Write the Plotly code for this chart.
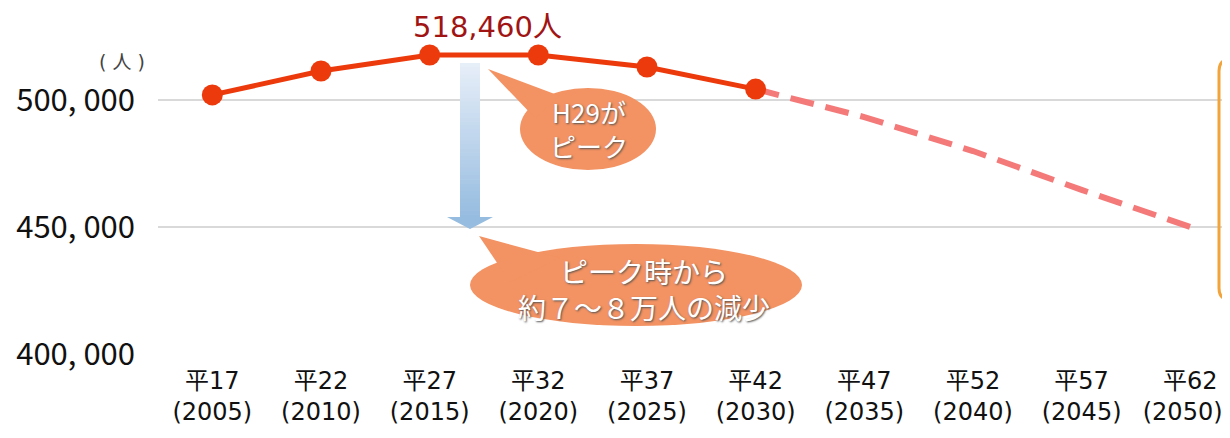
import plotly.graph_objects as go

# ---------------- data ----------------
era_labels = ["平17", "平22", "平27", "平32", "平37", "平42", "平47", "平52", "平57", "平62"]
year_labels = ["2005", "2010", "2015", "2020", "2025", "2030", "2035", "2040", "2045", "2050"]
actual_values = [502000, 511400, 517700, 517700, 513000, 504300]          # solid (with markers)
projected_values = [504300, 493300, 479900, 464600, 450000]               # dashed, from 2030
y_tick_values = [400000, 450000, 500000]
y_tick_labels = ["400, 000", "450, 000", "500, 000"]
peak_value = 518460
bubble1_lines = ["H29が", "ピーク"]
bubble2_lines = ["ピーク時から", "約７～８万人の減少"]

# ---------------- layout geometry ----------------
# the page has an 8px body margin, so screen px = figure px + 8
OFF = 8
FW, FH = 1222, 422
L, R, T = 150, 0, 0
H = 354 - OFF            # plot bottom (400,000 gridline) at screen y=354
B = FH - T - H
W = FW - L - R


def fx(px):  # screen px -> paper x
    return (px - OFF - L) / W


def fy(py):  # screen px -> paper y
    return (T + H - (py - OFF)) / H


x_idx = list(range(len(era_labels)))
tick_text = [f"{e}<br>({y})" for e, y in zip(era_labels, year_labels)]
# keep the last (edge) label inside the visible page
tick_text[-1] = f"{era_labels[-1]}<br>({year_labels[-1]})" + "\u00a0\u00a0"
proj_x = x_idx[len(actual_values) - 1:]

JP = "Noto Sans CJK JP"
DJ = "DejaVu Sans, Noto Sans CJK JP"
fig = go.Figure()

# dashed projection
fig.add_trace(go.Scatter(
    x=proj_x, y=projected_values, mode="lines",
    line=dict(color="#f47a7a", width=6, dash="24px,12px"),
    showlegend=False, hoverinfo="skip"))
# solid actual/estimate with markers
fig.add_trace(go.Scatter(
    x=x_idx[:len(actual_values)], y=actual_values, mode="lines+markers",
    line=dict(color="#ec3a0c", width=5),
    marker=dict(color="#ec3a0c", size=21),
    showlegend=False, hoverinfo="skip"))

shapes = []

# gradient arrow (light blue), built from thin slices
shaft_x0, shaft_x1, shaft_top, shaft_bot = 460, 480, 63, 218
n = 40
c0 = (230, 238, 248)
c1 = (150, 188, 224)
for i in range(n):
    t = i / (n - 1)
    col = tuple(round(a + (b - a) * t) for a, b in zip(c0, c1))
    y0 = shaft_top + (shaft_bot - shaft_top) * i / n
    y1 = shaft_top + (shaft_bot - shaft_top) * (i + 1) / n + 0.6
    shapes.append(dict(type="rect", xref="paper", yref="paper",
                       x0=fx(shaft_x0), x1=fx(shaft_x1), y0=fy(y1), y1=fy(y0),
                       fillcolor="rgb(%d,%d,%d)" % col, line=dict(width=0), layer="above"))
head = f"M {fx(447)},{fy(217)} L {fx(493)},{fy(217)} L {fx(470)},{fy(229)} Z"
shapes.append(dict(type="path", xref="paper", yref="paper", path=head,
                   fillcolor="rgb(150,188,224)", line=dict(width=0), layer="above"))

# speech bubbles
BUB = "#f39262"


def bubble(cx, cy, rx, ry, tip, b1, b2):
    shapes.append(dict(type="circle", xref="paper", yref="paper",
                       x0=fx(cx - rx), x1=fx(cx + rx), y0=fy(cy + ry), y1=fy(cy - ry),
                       fillcolor=BUB, line=dict(width=0), layer="above"))
    p = (f"M {fx(tip[0])},{fy(tip[1])} L {fx(b1[0])},{fy(b1[1])} "
         f"L {fx(b2[0])},{fy(b2[1])} Z")
    shapes.append(dict(type="path", xref="paper", yref="paper", path=p,
                       fillcolor=BUB, line=dict(width=0), layer="above"))


bubble(588, 129, 68, 41, (488, 69), (560, 96), (535, 118))
bubble(636, 285, 166, 41, (479, 236), (560, 258), (510, 282))

# orange frame partially visible at right edge
r = 12
x0f, x1f, y0f, y1f = 1219, 1330, 59, 300
frame = (f"M {fx(x0f + r)},{fy(y0f)} L {fx(x1f)},{fy(y0f)} L {fx(x1f)},{fy(y1f)} "
         f"L {fx(x0f + r)},{fy(y1f)} Q {fx(x0f)},{fy(y1f)} {fx(x0f)},{fy(y1f - r)} "
         f"L {fx(x0f)},{fy(y0f + r)} Q {fx(x0f)},{fy(y0f)} {fx(x0f + r)},{fy(y0f)} Z")
shapes.append(dict(type="path", xref="paper", yref="paper", path=frame,
                   fillcolor="rgba(0,0,0,0)", line=dict(color="#f2a33a", width=3)))

annotations = []
shadow = "1px 1px 2px #555"


def note(x, y, text, font, yanchor="middle"):
    annotations.append(dict(xref="paper", yref="paper", x=fx(x), y=fy(y), text=text,
                            showarrow=False, xanchor="center", yanchor=yanchor,
                            font=font))


note(589, 129, "<br>".join(bubble1_lines), dict(family=JP, size=26, color="white", shadow=shadow))
note(644, 289, "<br>".join(bubble2_lines), dict(family=JP, size=28, color="white", shadow=shadow))
note(488, 8, f"{peak_value:,}人", dict(family=DJ, size=29, color="#a11414"), yanchor="top")
note(122, 62, "( 人 )", dict(family=DJ, size=19, color="#444"))

ymin = y_tick_values[0]
ymax = ymin + H * (50000 / 127)

fig.update_layout(
    width=FW, height=FH,
    margin=dict(l=L, r=R, t=T, b=B, autoexpand=False),
    paper_bgcolor="white", plot_bgcolor="white",
    shapes=shapes, annotations=annotations,
    xaxis=dict(range=[-0.5, -0.5 + W / 108.66], tickmode="array", tickvals=x_idx,
               ticktext=tick_text, showgrid=False, zeroline=False, showline=False,
               ticks="", ticklabelstandoff=10, automargin=False,
               ticklabeloverflow="allow",
               tickfont=dict(family=DJ, size=24, color="#111")),
    yaxis=dict(range=[ymin, ymax], tickmode="array", tickvals=y_tick_values,
               ticktext=y_tick_labels, showgrid=True, gridcolor="#d9d9d9", gridwidth=2,
               zeroline=False, showline=False, ticks="", ticklabelstandoff=22,
               automargin=False,
               tickfont=dict(family=JP, size=31, color="#111")),
)

fig.write_html("out.html")
